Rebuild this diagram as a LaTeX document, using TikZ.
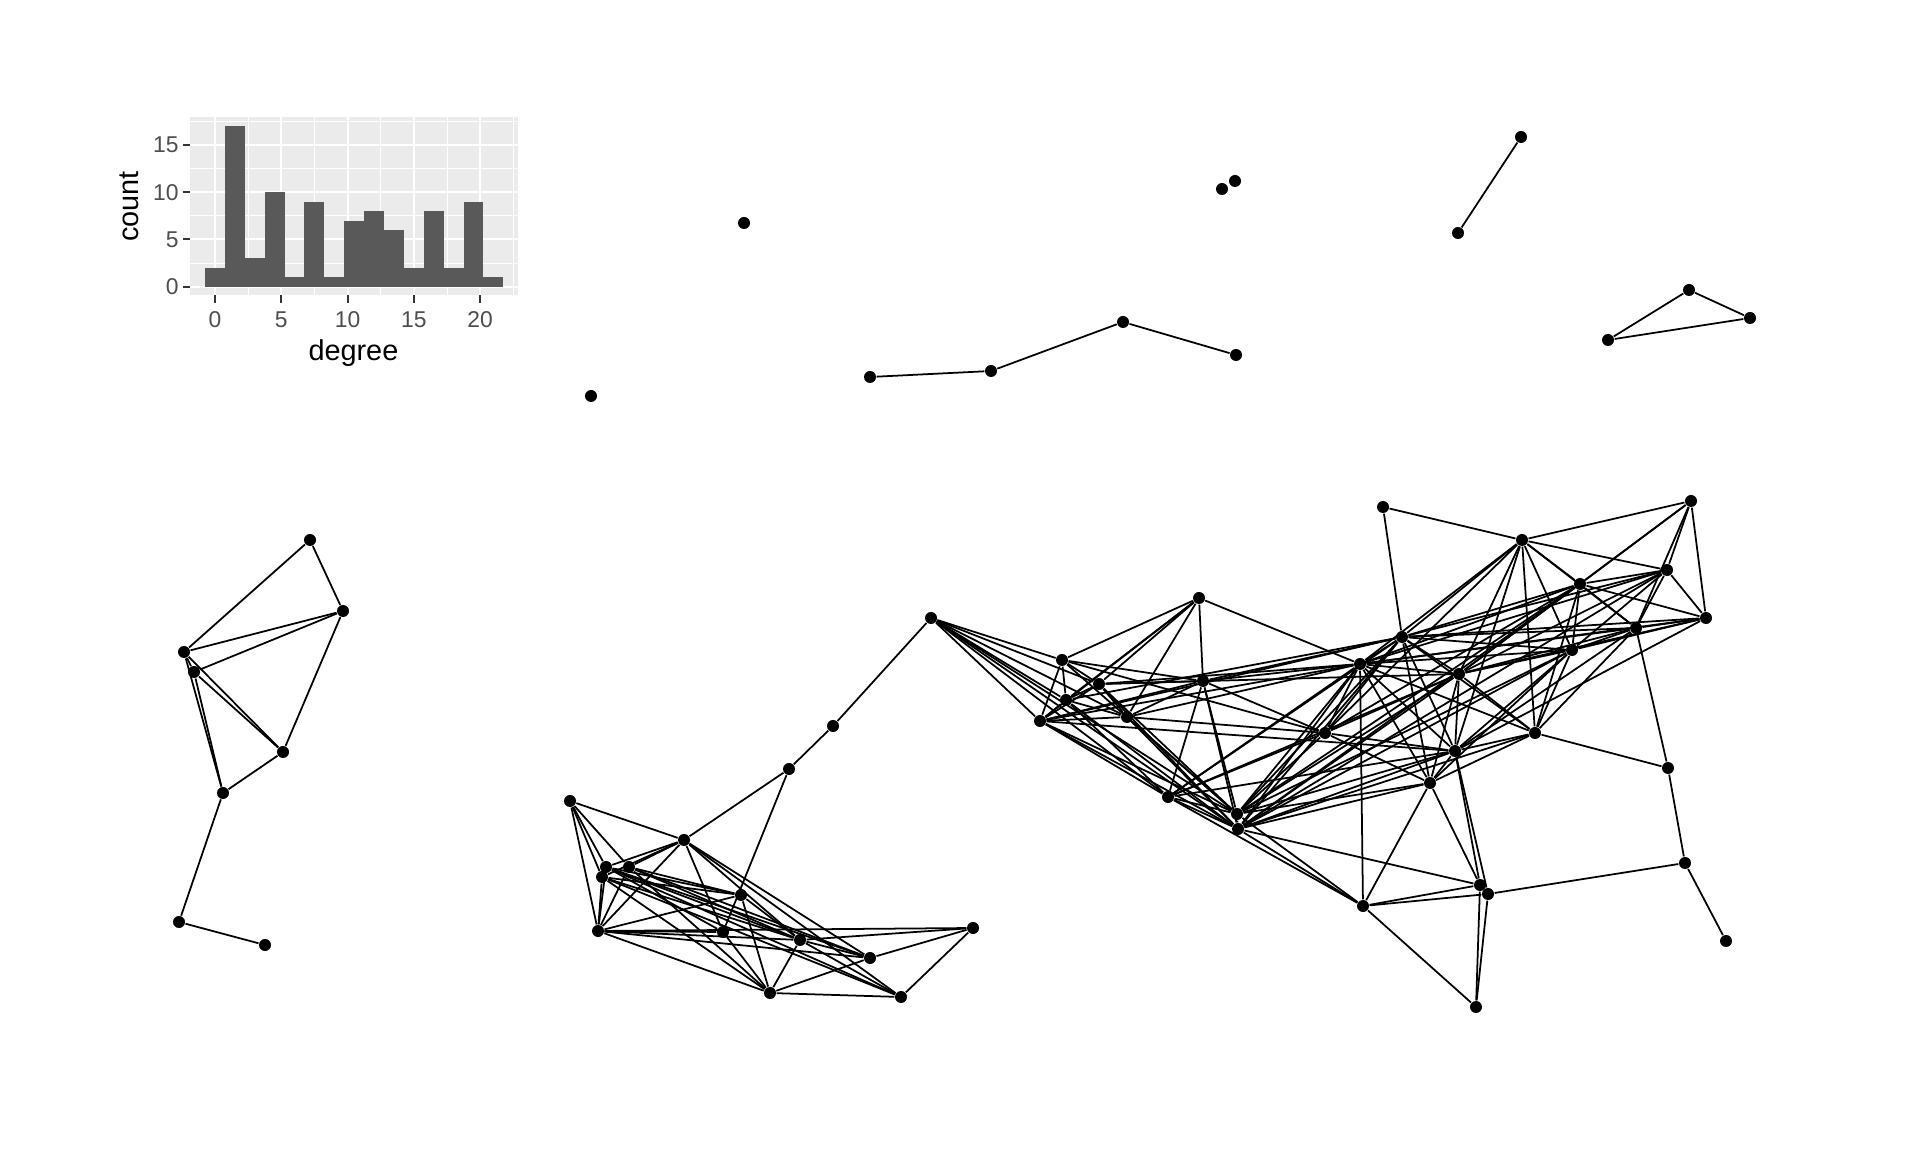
\documentclass[tikz,border=0pt]{standalone}
\usepackage{fontspec}
\newfontfamily\arialfont{Liberation Sans}
\begin{document}
\begin{tikzpicture}[x=0.01cm, y=-0.01cm,
    dot/.style={circle, fill=black, inner sep=0pt, minimum size=0.12cm},
    edge/.style={line width=0.5pt, black},
    majorgrid/.style={white, line width=0.55pt},
    minorgrid/.style={white, line width=0.28pt},
    axtick/.style={tickgray, line width=0.55pt},
    ticklabel/.style={text=labelgray, font=\arialfont\fontsize{6.5}{7}\selectfont, inner sep=0pt},
    axtitle/.style={font=\arialfont\fontsize{8.2}{9}\selectfont, inner sep=0pt}]

    % 定义颜色
    \definecolor{panelbg}{HTML}{EBEBEB}
    \definecolor{barfill}{HTML}{595959}
    \definecolor{labelgray}{HTML}{4D4D4D}
    \definecolor{tickgray}{HTML}{333333}

    % 画布大小
    \useasboundingbox (0,0) rectangle (1920,1152);

    % 度分布直方图
    \begin{scope}[shift={(215,286.7)}, x=0.1325cm, y=0.09447cm]
        \fill[panelbg] (-1.887,-0.88) rectangle (22.89,17.93);
        \foreach \gx in {2.5,7.5,12.5,17.5,22.5} {
            \draw[minorgrid] (\gx,-0.88) -- (\gx,17.93);
        }
        \foreach \gy in {2.5,7.5,12.5,17.5} {
            \draw[minorgrid] (-1.887,\gy) -- (22.89,\gy);
        }
        \foreach \gx in {0,5,10,15,20} {
            \draw[majorgrid] (\gx,-0.88) -- (\gx,17.93);
        }
        \foreach \gy in {0,5,10,15} {
            \draw[majorgrid] (-1.887,\gy) -- (22.89,\gy);
        }
        % 柱子
        \foreach \c/\n in {0/2, 1.5/17, 3/3, 4.5/10, 6/1, 7.5/9, 9/1, 10.5/7,
                           12/8, 13.5/6, 15/2, 16.5/8, 18/2, 19.5/9, 21/1} {
            \fill[barfill] (\c-0.75,0) rectangle (\c+0.75,\n);
        }
        % 坐标轴刻度
        \foreach \v in {0,5,10,15,20} {
            \draw[axtick] (\v,-0.88) -- (\v,-1.73);
            \node[ticklabel] (xl\v) at (\v,-3.45) {\v};
        }
        \foreach \v in {0,5,10,15} {
            \draw[axtick] (-1.887,\v) -- (-2.44,\v);
            \node[ticklabel, anchor=east] (yl\v) at (-2.7,\v) {\v};
        }
        \node[axtitle] (xtitle) at (10.44,-7.05) {degree};
        \node[axtitle, rotate=90] (ytitle) at (-6.5,8.47) {count};
    \end{scope}

    % 孤立点和小分支
    \foreach \n/\x/\y in {t1/744/223, t2/591/396, t3/1222/189, t4/1235/181,
                          t5/1458/233, t6/1521/137, t7/870/377, t8/991/371,
                          t9/1123/322, t10/1236/355, t11/1608/340, t12/1689/290,
                          t13/1750/318} {
        \node[dot] (\n) at (\x,\y) {};
    }
    \foreach \a/\b in {t5/t6, t7/t8, t8/t9, t9/t10, t11/t12, t12/t13, t11/t13} {
        \draw[edge] (\a) -- (\b);
    }

    % 左侧分支
    \foreach \n/\x/\y in {l1/310/540, l2/343/611, l3/184/652, l4/194/672,
                          l5/283/752, l6/223/793, l7/179/922, l8/265/945} {
        \node[dot] (\n) at (\x,\y) {};
    }
    \foreach \a/\b in {l1/l3, l1/l2, l2/l3, l2/l4, l2/l5, l3/l4, l3/l5, l4/l5,
                       l3/l6, l4/l6, l5/l6, l6/l7, l7/l8} {
        \draw[edge] (\a) -- (\b);
    }

    % 中间下方的团
    \foreach \n/\x/\y in {m1/931/618, m2/833/726, m3/789/769, m4/570/801,
                          m5/684/840, m6/606/867, m7/629/867, m8/602/877,
                          m9/598/931, m10/741/895, m11/723/932, m12/800/940,
                          m13/870/958, m14/770/993, m15/901/997, m16/973/928} {
        \node[dot] (\n) at (\x,\y) {};
    }
    \foreach \a/\b in {m1/m2, m2/m3, m3/m5, m3/m11, m4/m5, m4/m6, m4/m8, m4/m9,
                       m4/m7, m5/m6, m5/m7, m5/m8, m5/m9, m5/m11, m5/m12, m5/m15,
                       m5/m13, m9/m6, m9/m7, m9/m8, m9/m16, m9/m12, m9/m14, m9/m10,
                       m9/m11, m9/m13, m6/m12, m6/m13, m6/m10, m6/m11, m6/m15,
                       m7/m12, m7/m10, m7/m13, m8/m12, m8/m10, m8/m15, m8/m14,
                       m14/m11, m14/m10, m14/m12, m14/m13, m14/m15, m15/m16,
                       m15/m12, m13/m16, m12/m16, m12/m13, m10/m12, m7/m14} {
        \draw[edge] (\a) -- (\b);
    }

    % 右侧大的团
    \foreach \n/\x/\y in {b1/1199/598, b2/1062/660, b3/1040/721, b4/1099/684,
                          b5/1066/700, b6/1127/717, b7/1203/681, b8/1168/797,
                          b9/1237/814, b10/1238/829, b11/1325/733, b12/1360/664,
                          b13/1402/637, b14/1383/507, b15/1522/540, b16/1580/584,
                          b17/1667/570, b18/1691/501, b19/1706/618, b20/1636/628,
                          b21/1572/650, b22/1459/674, b23/1535/733, b24/1455/751,
                          b25/1430/783, b26/1668/768, b27/1685/863, b28/1726/941,
                          b29/1480/885, b30/1488/894, b31/1363/906, b32/1476/1007} {
        \node[dot] (\n) at (\x,\y) {};
    }
    \foreach \a/\b in {m1/b2, m1/b3, m1/b4, m1/b5, m1/b6, m1/b8, m1/b9, m1/b10,
                       b1/b2, b1/b3, b1/b4, b1/b5, b1/b6, b1/b7, b1/b12,
                       b2/b3, b2/b4, b2/b5, b2/b7, b2/b11, b2/b9,
                       b3/b4, b3/b5, b3/b6, b3/b7, b3/b8, b3/b9, b3/b10, b3/b12,
                       b3/b13, b3/b24,
                       b4/b5, b4/b6, b4/b7, b4/b9, b4/b10, b4/b12, b4/b22,
                       b5/b6, b5/b8, b5/b10, b5/b13,
                       b6/b7, b6/b9, b6/b10, b6/b11, b6/b12,
                       b7/b8, b7/b9, b7/b10, b7/b12, b7/b11, b7/b13,
                       b8/b9, b8/b10, b8/b11, b8/b12, b8/b13, b8/b22, b8/b31, b8/b24,
                       b9/b10, b9/b12, b9/b13, b9/b22, b9/b16, b9/b21, b9/b24,
                       b9/b25, b9/b11, b9/b31,
                       b10/b12, b10/b13, b10/b22, b10/b16, b10/b21, b10/b17,
                       b10/b24, b10/b25, b10/b23, b10/b31, b10/b29,
                       b11/b12, b11/b13, b11/b22, b11/b24, b11/b25, b11/b15, b11/b16,
                       b12/b13, b12/b15, b12/b16, b12/b17, b12/b19, b12/b20,
                       b12/b21, b12/b22, b12/b23, b12/b24, b12/b25, b12/b31,
                       b13/b14, b13/b15, b13/b16, b13/b17, b13/b19, b13/b20,
                       b13/b21, b13/b22, b13/b23, b13/b24, b13/b25,
                       b14/b15,
                       b15/b16, b15/b17, b15/b18, b15/b20, b15/b21, b15/b22,
                       b15/b23, b15/b24,
                       b16/b17, b16/b18, b16/b19, b16/b20, b16/b21, b16/b22, b16/b23,
                       b17/b18, b17/b19, b17/b20, b17/b22, b17/b21,
                       b18/b19, b18/b20, b18/b22,
                       b19/b20, b19/b21, b19/b22, b19/b24,
                       b20/b21, b20/b26, b20/b22, b20/b23, b20/b24,
                       b21/b22, b21/b23, b21/b24, b21/b25,
                       b22/b23, b22/b24, b22/b25,
                       b23/b24, b23/b25, b23/b26,
                       b24/b25, b24/b29, b24/b30,
                       b25/b29, b25/b31,
                       b26/b27, b27/b28, b27/b30,
                       b29/b31, b30/b31, b31/b32, b29/b32, b30/b32} {
        \draw[edge] (\a) -- (\b);
    }

\end{tikzpicture}
\end{document}
